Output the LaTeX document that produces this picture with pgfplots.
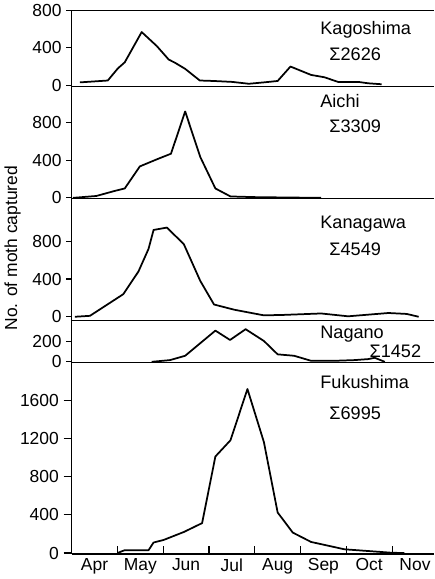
\documentclass[border=0pt]{standalone}
\usepackage{fontspec}
\setmainfont{Liberation Sans}
\usepackage{pgfplots}
\pgfplotsset{compat=1.18}

\pgfplotsset{
  panel/.style={
    scale only axis, width=270pt,
    xmin=0, xmax=7.912,
    axis x line=box, axis y line=left,
    axis line style={-, line width=0.8pt},
    xtick=\empty, ytick pos=left,
    tick align=outside, major tick length=4pt,
    tick style={line width=0.8pt, black},
    /pgf/number format/assume math mode=true,
    /pgf/number format/1000 sep={},
    tick label style={font=\fontsize{13}{15}\selectfont},
    clip=false,
  },
}
\tikzset{
  lbl/.style={anchor=west, font=\fontsize{13.5}{15}\selectfont, inner sep=0pt},
  curve/.style={black, line width=1.3pt, mark=none, line join=round},
}

\begin{document}
\begin{tikzpicture}
% Fukushima
\begin{axis}[panel, at={(0,0)}, anchor=south west, height=142.5pt,
  ymin=-10, ymax=1990, ytick={0,400,800,1200,1600},
  xtick={1,2,3,4,5,6,7}, xticklabels={}, xtick pos=bottom,
  xtick align=inside, major tick length=6pt,
  extra x ticks={0.5,1.5,2.5,3.5,4.5,5.5,6.5,7.5},
  extra x tick labels={Apr,May,Jun,Jul,Aug,Sep,Oct,Nov},
  extra x tick style={major tick length=0pt},
]
\addplot[curve] coordinates {(1.00,0) (1.16,30) (1.68,30) (1.79,110) (2.01,137) (2.45,220) (2.85,313)
  (3.14,1010) (3.47,1180) (3.84,1716) (4.20,1160) (4.50,424) (4.83,214) (5.23,116)
  (5.96,39) (6.48,21) (6.99,3) (7.27,0)};
\node[lbl] at (rel axis cs:0.686,0.90) {Fukushima};
\node[lbl] at (rel axis cs:0.711,0.737) {Σ6995};
\end{axis}
% Nagano
\begin{axis}[panel, at={(0,142.5pt)}, anchor=south west, height=31.5pt,
  ymin=-10, ymax=410, ytick={0,200}]
\addplot[curve] coordinates {(1.75,0) (2.15,17) (2.48,60) (3.14,310) (3.46,217) (3.80,324) (4.20,207)
  (4.50,74) (4.86,60) (5.23,10) (5.74,10) (6.18,17) (6.48,27) (6.62,40) (6.84,0)};
\node[lbl] at (rel axis cs:0.686,0.667) {Nagano};
\node[lbl] at (rel axis cs:0.822,0.262) {Σ1452};
\end{axis}
% Kanagawa
\begin{axis}[panel, at={(0,174pt)}, anchor=south west, height=90.75pt,
  ymin=-40, ymax=1250, ytick={0,400,800}]
\addplot[curve] coordinates {(0.07,0) (0.40,10) (1.13,240) (1.46,480) (1.68,720) (1.79,920) (2.08,945)
  (2.45,770) (2.81,380) (3.11,130) (3.55,75) (4.20,15) (4.64,20) (5.45,35) (6.04,5)
  (6.92,40) (7.32,30) (7.58,0)};
\node[lbl] at (rel axis cs:0.686,0.793) {Kanagawa};
\node[lbl] at (rel axis cs:0.711,0.587) {Σ4549};
\end{axis}
% Aichi
\begin{axis}[panel, at={(0,264.75pt)}, anchor=south west, height=84pt,
  ymin=-10, ymax=1190, ytick={0,400,800}]
\addplot[curve] coordinates {(0.03,0) (0.54,20) (0.95,75) (1.16,100) (1.49,335) (1.86,410) (2.17,470)
  (2.48,920) (2.81,435) (3.14,100) (3.47,15) (3.98,8) (4.50,5) (5.45,0)};
\node[lbl] at (rel axis cs:0.686,0.866) {Aichi};
\node[lbl] at (rel axis cs:0.711,0.643) {Σ3309};
\end{axis}
% Kagoshima
\begin{axis}[panel, at={(0,348.75pt)}, anchor=south west, height=56.25pt,
  ymin=-10, ymax=800, ytick={0,400,800}]
\addplot[curve] coordinates {(0.18,30) (0.79,50) (1.01,180) (1.16,245) (1.53,570) (1.86,420) (2.12,275)
  (2.26,240) (2.48,175) (2.80,50) (3.10,45) (3.51,35) (3.87,15) (4.20,30) (4.50,45)
  (4.78,200) (5.23,110) (5.52,85) (5.82,35) (6.26,35) (6.48,20) (6.77,10)};
\node[lbl] at (rel axis cs:0.686,0.747) {Kagoshima};
\node[lbl] at (rel axis cs:0.711,0.427) {Σ2626};
\end{axis}
\node[rotate=90, font=\fontsize{13}{15}\selectfont] at (-44pt,228pt) {No. of moth captured};
\end{tikzpicture}
\end{document}
